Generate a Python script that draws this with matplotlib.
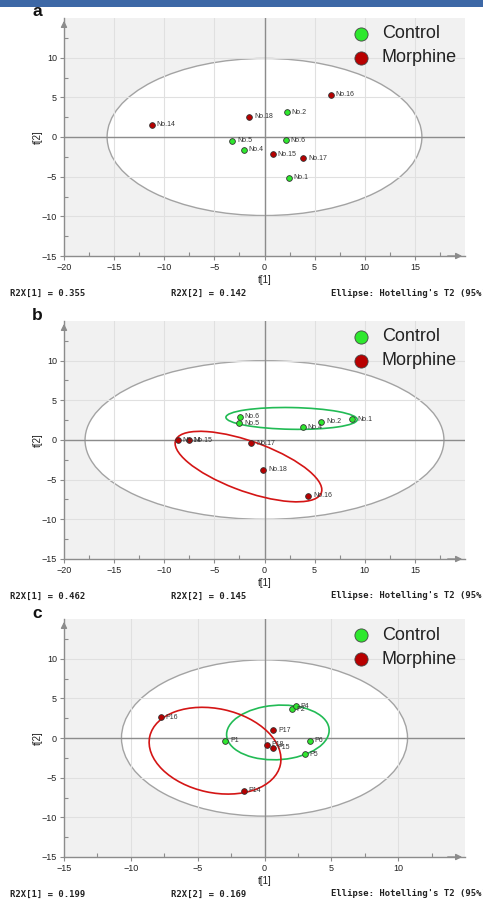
import numpy as np
import matplotlib
matplotlib.use('Agg')
import matplotlib.pyplot as plt
from matplotlib.patches import Ellipse, Rectangle

plt.rcParams['font.family'] = ['Liberation Sans', 'DejaVu Sans']

# panel a
a_ctrl_names = ['No.1', 'No.2', 'No.4', 'No.5', 'No.6']
a_ctrl_t1 = [2.4, 2.23, -2.07, -3.2, 2.13]
a_ctrl_t2 = [-5.13, 3.15, -1.6, -0.5, -0.38]
a_morph_names = ['No.14', 'No.15', 'No.16', 'No.17', 'No.18']
a_morph_t1 = [-11.27, 0.83, 6.63, 3.87, -1.53]
a_morph_t2 = [1.55, -2.18, 5.34, -2.69, 2.56]
a_r2x = [0.355, 0.142]
a_t2ellipse = [15.7, 9.9]

# panel b
b_ctrl_names = ['No.1', 'No.2', 'No.4', 'No.5', 'No.6']
b_ctrl_t1 = [8.73, 5.67, 3.8, -2.53, -2.47]
b_ctrl_t2 = [2.6, 2.31, 1.6, 2.14, 2.9]
b_morph_names = ['No.14', 'No.15', 'No.16', 'No.17', 'No.18']
b_morph_t1 = [-8.63, -7.53, 4.37, -1.33, -0.1]
b_morph_t2 = [-0.04, -0.04, -7.02, -0.38, -3.74]
b_r2x = [0.462, 0.145]
b_t2ellipse = [17.9, 10.0]
# group ellipses: center x, center y, width, height, angle
b_ctrl_ell = [2.7, 2.72, 13.1, 2.74, -1.3]
b_morph_ell = [-1.6, -3.35, 16.0, 6.1, -25.9]

# panel c
c_ctrl_names = ['P1', 'P2', 'P4', 'P5', 'P6']
c_ctrl_t1 = [-2.95, 2.03, 2.33, 3.03, 3.4]
c_ctrl_t2 = [-0.34, 3.61, 4.03, -2.02, -0.34]
c_morph_names = ['P14', 'P15', 'P16', 'P17', 'P18']
c_morph_t1 = [-1.55, 0.63, -7.75, 0.65, 0.15]
c_morph_t2 = [-6.68, -1.22, 2.6, 0.97, -0.84]
c_r2x = [0.199, 0.169]
c_t2ellipse = [10.7, 9.85]
c_ctrl_ell = [1.0, 0.7, 7.76, 6.8, 18]
c_morph_ell = [-3.7, -1.6, 11.5, 9.2, 121]

green = '#2ee82e'
red = '#b80000'
axis_gray = '#8c8c8c'

W, H = 483, 901
fig = plt.figure(figsize=(W / 100, H / 100), dpi=100)
fig.patches.append(Rectangle((0, 1 - 7 / H), 1, 7 / H, transform=fig.transFigure,
                             facecolor='#3d68a6', edgecolor='none', zorder=0))


def panel(top, bottom, letter, xlim, ctrl, morph, r2x, t2, ctrl_ell=None, morph_ell=None):
    ax = fig.add_axes([64 / W, 1 - bottom / H, 401 / W, (bottom - top) / H])
    ax.set_facecolor('#f1f1f1')
    ax.set_xlim(xlim)
    ax.set_ylim(-15, 15)
    ax.set_xticks(np.arange(xlim[0], xlim[1], 5))
    ax.set_yticks(np.arange(-15, 15, 5))
    ax.set_xticks(np.arange(xlim[0], xlim[1], 2.5), minor=True)
    ax.set_yticks(np.arange(-15, 15, 2.5), minor=True)
    ax.tick_params(which='major', direction='out', length=3, width=0.8, color=axis_gray,
                   labelsize=6.5, labelcolor='#222222', pad=2)
    ax.tick_params(which='minor', direction='in', length=3, width=0.8, color=axis_gray)
    for s in ['top', 'right']:
        ax.spines[s].set_visible(False)
    for s in ['left', 'bottom']:
        ax.spines[s].set_color(axis_gray)
        ax.spines[s].set_linewidth(1.0)
    ax.annotate('', xy=(0, 1.0), xytext=(0, 0.95), xycoords='axes fraction',
                arrowprops=dict(arrowstyle='-|>', color=axis_gray, lw=1, mutation_scale=9))
    ax.annotate('', xy=(1.0, 0), xytext=(0.95, 0), xycoords='axes fraction',
                arrowprops=dict(arrowstyle='-|>', color=axis_gray, lw=1, mutation_scale=9))

    ax.set_axisbelow('line')
    ax.grid(True, which='major', color='#e0e0e0', lw=0.8)
    ax.add_patch(Ellipse((0, 0), 2 * t2[0], 2 * t2[1], facecolor='white',
                         edgecolor='#a3a3a3', lw=1.0, zorder=1))
    ax.axhline(0, color=axis_gray, lw=1.0, zorder=2)
    ax.axvline(0, color=axis_gray, lw=1.0, zorder=2)

    if ctrl_ell is not None:
        ax.add_patch(Ellipse((ctrl_ell[0], ctrl_ell[1]), ctrl_ell[2], ctrl_ell[3], angle=ctrl_ell[4],
                             facecolor='none', edgecolor='#22bb55', lw=1.2, zorder=2.5))
        ax.add_patch(Ellipse((morph_ell[0], morph_ell[1]), morph_ell[2], morph_ell[3], angle=morph_ell[4],
                             facecolor='none', edgecolor='#d41515', lw=1.2, zorder=2.5))

    for (names, t1, t2v), col in [(ctrl, green), (morph, red)]:
        ax.scatter(t1, t2v, s=17, c=col, edgecolors='#333333', linewidths=0.6, zorder=3)
        for n, x, y in zip(names, t1, t2v):
            ax.annotate(n, (x, y), xytext=(3.5, 0), textcoords='offset points',
                        va='center', ha='left', fontsize=5, color='#333333', zorder=4)

    ax.text(0.5, -(280 - bottom) / (top - bottom) * 0 - 24 / (bottom - top), 't[1]',
            transform=ax.transAxes, ha='center', va='center', fontsize=7, color='#222222')
    ax.text(-26 / 401, 0.5, 't[2]', transform=ax.transAxes, rotation=90,
            ha='center', va='center', fontsize=7, color='#222222')

    # legend
    hgt = bottom - top
    for lab, col, yy in [('Control', green, 34 - 18), ('Morphine', red, 58 - 18)]:
        ya = 1 - yy / hgt
        ax.scatter([(361 - 64) / 401], [ya], s=90, c=col, edgecolors='#444444', linewidths=0.6,
                   transform=ax.transAxes, zorder=5, clip_on=False)
        ax.text((382 - 64) / 401, ya, lab, transform=ax.transAxes, ha='left', va='center',
                fontsize=13, color='#222222', zorder=5)

    fig.text(37 / W, 1 - (top - 6) / H, letter, ha='center', va='center',
             fontsize=12.5, fontweight='bold', color='#111111')

    yb = 1 - (bottom + 37) / H
    mono = dict(family='DejaVu Sans Mono', fontsize=6.4, fontweight='bold', color='#222222', va='center')
    fig.text(10 / W, yb, 'R2X[1] = %.3f' % r2x[0], ha='left', **mono)
    fig.text(171 / W, yb, 'R2X[2] = %.3f' % r2x[1], ha='left', **mono)
    fig.text(331 / W, yb, "Ellipse: Hotelling's T2 (95%)", ha='left', **mono)
    return ax


panel(18, 256, 'a', (-20, 20),
      (a_ctrl_names, a_ctrl_t1, a_ctrl_t2), (a_morph_names, a_morph_t1, a_morph_t2),
      a_r2x, a_t2ellipse)
panel(321, 559, 'b', (-20, 20),
      (b_ctrl_names, b_ctrl_t1, b_ctrl_t2), (b_morph_names, b_morph_t1, b_morph_t2),
      b_r2x, b_t2ellipse, b_ctrl_ell, b_morph_ell)
panel(619, 857, 'c', (-15, 15),
      (c_ctrl_names, c_ctrl_t1, c_ctrl_t2), (c_morph_names, c_morph_t1, c_morph_t2),
      c_r2x, c_t2ellipse, c_ctrl_ell, c_morph_ell)

fig.savefig('out.png', dpi=100)
